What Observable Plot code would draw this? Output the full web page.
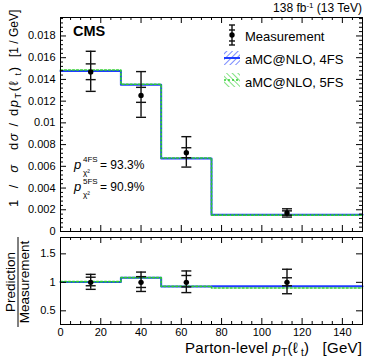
<!DOCTYPE html>
<html>
<head>
<meta charset="utf-8">
<script src="https://cdn.jsdelivr.net/npm/d3@7"></script>
<script src="https://cdn.jsdelivr.net/npm/@observablehq/plot@0.6"></script>
<style>
  html, body { margin: 0; padding: 0; background: white; }
  #chart { position: relative; width: 374px; height: 363px; font-family: "Liberation Sans", Arial, sans-serif; }
  #top, #bot { position: absolute; left: 0; }
  #top { top: 0; }
  #bot { top: 230px; }
  #ann { position: absolute; left: 0; top: 0; pointer-events: none; }
  svg text { font-family: "Liberation Sans", Arial, sans-serif; }
</style>
</head>
<body>
<div id="chart">
  <div id="top"></div>
  <div id="bot"></div>
</div>
<script>
// ---- data ----
const binEdges   = [0, 30, 50, 75, 150];
const binCenters = [15, 40, 62.5, 112.5];

const measured = [0.01469, 0.01253, 0.00725, 0.00170];
const totalUp  = [0.01659, 0.01472, 0.00873, 0.00209];
const totalDn  = [0.01290, 0.01051, 0.00593, 0.00133];
const statUp   = [0.01543, 0.01327, 0.00771, 0.00190];
const statDn   = [0.01398, 0.01189, 0.00679, 0.00150];

const pred4FS = [0.01478, 0.01352, 0.00673, 0.00154];
const pred5FS = [0.01487, 0.01355, 0.00676, 0.00151];

const ratioMeas    = [1, 1, 1, 1];
const ratioTotUp   = [1.14, 1.18, 1.20, 1.23];
const ratioTotDn   = [0.877, 0.84, 0.82, 0.80];
const ratioStatUp  = [1.09, 1.10, 1.12, 1.08];
const ratioStatDn  = [0.94, 0.91, 0.92, 0.94];
const ratio4FS     = [1.006, 1.079, 0.928, 0.930];
const ratio5FS     = [1.012, 1.082, 0.930, 0.900];

const yTicksTop      = [0, 0.002, 0.004, 0.006, 0.008, 0.010, 0.012, 0.014, 0.016, 0.018];
const yTickLabelsTop = ["0", "0.002", "0.004", "0.006", "0.008", "0.01", "0.012", "0.014", "0.016", "0.018"];
const yTicksBot      = [0.5, 1, 1.5];
const yTickLabelsBot = ["0.5", "1", "1.5"];
const xTicks         = [0, 20, 40, 60, 80, 100, 120, 140];

const blue  = "#1f3dff";
const green = "#2fcf2f";
const font  = '"Liberation Sans", Arial, sans-serif';

// ---- derived tables ----
const points = binCenters.map((c, i) => ({
  x: c, y: measured[i], tu: totalUp[i], td: totalDn[i], su: statUp[i], sd: statDn[i]
}));
const rpoints = binCenters.map((c, i) => ({
  x: c, y: ratioMeas[i], tu: ratioTotUp[i], td: ratioTotDn[i], su: ratioStatUp[i], sd: ratioStatDn[i]
}));
const stepOf = (vals) => binEdges.map((e, i) => ({x: e, y: vals[Math.min(i, vals.length - 1)]}));

const xMinor = d3.range(0, 151, 5).filter(v => v % 20 !== 0);
const yMinorTop = d3.range(1, 50).map(i => i * 0.0004).filter(v => v < 0.0197 && Math.abs(v / 0.002 - Math.round(v / 0.002)) > 1e-6);

const cap = { draw(ctx) { ctx.moveTo(-5, 0); ctx.lineTo(5, 0); } };

function errorMarks(data) {
  return [
    Plot.ruleX(data, {x: "x", y1: "td", y2: "tu", stroke: "#111", strokeWidth: 1.4}),
    Plot.dot(data, {x: "x", y: "tu", symbol: cap, stroke: "#111", strokeWidth: 1.4, fill: "none", r: 3}),
    Plot.dot(data, {x: "x", y: "td", symbol: cap, stroke: "#111", strokeWidth: 1.4, fill: "none", r: 3}),
    Plot.dot(data, {x: "x", y: "su", symbol: cap, stroke: "#111", strokeWidth: 1.4, fill: "none", r: 3}),
    Plot.dot(data, {x: "x", y: "sd", symbol: cap, stroke: "#111", strokeWidth: 1.4, fill: "none", r: 3}),
    Plot.dot(data, {x: "x", y: "y", r: 2.7, fill: "black", stroke: "none"})
  ];
}

function tickMarks(W, H, yMajor, yMinor, yLen, yMinLen) {
  const m = [];
  m.push(Plot.tickY(yMajor, {y: d => d, insetRight: W - yLen, stroke: "black"}));
  m.push(Plot.tickY(yMajor, {y: d => d, insetLeft: W - yLen, stroke: "black"}));
  if (yMinor.length) {
    m.push(Plot.tickY(yMinor, {y: d => d, insetRight: W - yMinLen, stroke: "black"}));
    m.push(Plot.tickY(yMinor, {y: d => d, insetLeft: W - yMinLen, stroke: "black"}));
  }
  m.push(Plot.tickX(xTicks, {x: d => d, insetTop: H - 6, stroke: "black"}));
  m.push(Plot.tickX(xTicks, {x: d => d, insetBottom: H - 6, stroke: "black"}));
  m.push(Plot.tickX(xMinor, {x: d => d, insetTop: H - 3, stroke: "black"}));
  m.push(Plot.tickX(xMinor, {x: d => d, insetBottom: H - 3, stroke: "black"}));
  return m;
}

// ---- top panel ----
const topW = 374, topH = 240, mL = 60, mR = 12, tMT = 17, tMB = 9;
const topPlot = Plot.plot({
  width: topW, height: topH,
  marginLeft: mL, marginRight: mR, marginTop: tMT, marginBottom: tMB,
  x: {domain: [0, 150], axis: null},
  y: {domain: [0, 0.0197]},
  style: {fontFamily: font, fontSize: "11px", color: "black", background: "none", overflow: "visible"},
  marks: [
    Plot.line(stepOf(pred4FS), {x: "x", y: "y", curve: "step-after", stroke: blue, strokeWidth: 2}),
    Plot.line(stepOf(pred5FS), {x: "x", y: "y", curve: "step-after", stroke: green, strokeWidth: 1.6, strokeDasharray: "2,2"}),
    ...errorMarks(points),
    ...tickMarks(topW - mL - mR, topH - tMT - tMB, yTicksTop, yMinorTop, 6, 3),
    Plot.axisY(yTicksTop, {tickSize: 0, tickPadding: 5, label: null, fontSize: 11,
      tickFormat: d => yTickLabelsTop[yTicksTop.indexOf(d)]}),
    Plot.frame({stroke: "black", strokeWidth: 1})
  ]
});
document.getElementById("top").appendChild(topPlot);

// ---- ratio panel ----
const botW = 374, botH = 133, bMT = 7, bMB = 39;
const botPlot = Plot.plot({
  width: botW, height: botH,
  marginLeft: mL, marginRight: mR, marginTop: bMT, marginBottom: bMB,
  x: {domain: [0, 150]},
  y: {domain: [0.26, 1.787]},
  style: {fontFamily: font, fontSize: "11px", color: "black", background: "none", overflow: "visible"},
  marks: [
    Plot.line(stepOf(ratio4FS), {x: "x", y: "y", curve: "step-after", stroke: blue, strokeWidth: 2}),
    Plot.line(stepOf(ratio5FS), {x: "x", y: "y", curve: "step-after", stroke: green, strokeWidth: 1.6, strokeDasharray: "2,2"}),
    ...errorMarks(rpoints),
    ...tickMarks(botW - mL - mR, botH - bMT - bMB, yTicksBot, [], 6, 3),
    Plot.axisY(yTicksBot, {tickSize: 0, tickPadding: 5, label: null, fontSize: 11,
      tickFormat: d => yTickLabelsBot[yTicksBot.indexOf(d)]}),
    Plot.axisX(xTicks, {tickSize: 0, tickPadding: 4, label: null, fontSize: 11}),
    Plot.frame({stroke: "black", strokeWidth: 1})
  ]
});
document.getElementById("bot").appendChild(botPlot);

// ---- annotations, titles and legend ----
const ann = `
<svg id="ann" width="374" height="363" xmlns="http://www.w3.org/2000/svg">
  <defs>
    <pattern id="hatch4" patternUnits="userSpaceOnUse" width="4" height="4" patternTransform="rotate(45)">
      <line x1="0" y1="0" x2="0" y2="4" stroke="${blue}" stroke-width="1.2"/>
    </pattern>
    <pattern id="hatch5" patternUnits="userSpaceOnUse" width="4" height="4" patternTransform="rotate(-45)">
      <line x1="0" y1="0" x2="0" y2="4" stroke="${green}" stroke-width="1.2"/>
    </pattern>
  </defs>
  <text x="362" y="12" text-anchor="end" font-size="12">138 fb<tspan dy="-4" font-size="8">-1</tspan><tspan dy="4"> (13 TeV)</tspan></text>
  <text x="73" y="36" font-size="14.5" font-weight="bold">CMS</text>

  <!-- legend -->
  <g stroke="#111" stroke-width="1.4">
    <line x1="232" y1="25" x2="232" y2="45"/>
    <line x1="229" y1="25" x2="235" y2="25"/>
    <line x1="229" y1="45" x2="235" y2="45"/>
    <line x1="229" y1="30" x2="235" y2="30"/>
    <line x1="229" y1="41" x2="235" y2="41"/>
  </g>
  <circle cx="232" cy="35" r="2.7" fill="black"/>
  <text x="245" y="40.5" font-size="13">Measurement</text>
  <rect x="224" y="51" width="16" height="14" fill="url(#hatch4)"/>
  <line x1="224" y1="58" x2="240" y2="58" stroke="${blue}" stroke-width="2"/>
  <text x="245" y="63.5" font-size="13">aMC@NLO, 4FS</text>
  <rect x="224" y="73" width="16" height="14" fill="url(#hatch5)"/>
  <line x1="224" y1="80" x2="240" y2="80" stroke="${green}" stroke-width="1.6" stroke-dasharray="2,2"/>
  <text x="245" y="86.5" font-size="13">aMC@NLO, 5FS</text>

  <!-- chi2 probabilities -->
  <text x="74" y="168.5" font-size="13" font-style="italic">p</text>
  <text x="83" y="162" font-size="8">4FS</text>
  <text x="83" y="175" font-size="8">χ²</text>
  <text x="100" y="168.5" font-size="12">= 93.3%</text>
  <text x="74" y="190.5" font-size="13" font-style="italic">p</text>
  <text x="83" y="184" font-size="8">5FS</text>
  <text x="83" y="197" font-size="8">χ²</text>
  <text x="100" y="190.5" font-size="12">= 90.9%</text>

  <!-- y title (top panel) -->
  <g transform="translate(18,207) rotate(-90)" font-size="13">
    <text x="0" y="0" textLength="42" lengthAdjust="spacing">1 / <tspan font-style="italic">σ</tspan></text>
    <text x="57" y="0" textLength="83" lengthAdjust="spacing">d<tspan font-style="italic">σ</tspan> / d<tspan font-style="italic">p</tspan><tspan font-size="9" dy="3">T</tspan><tspan dy="-3">(ℓ</tspan><tspan font-size="9" dy="3">\u00a0t</tspan><tspan dy="-3">)</tspan></text>
    <text x="150" y="0" font-size="12">[1 / GeV]</text>
  </g>

  <!-- y title (ratio panel) -->
  <g transform="translate(17,282) rotate(-90)" font-size="13.5">
    <text x="0" y="-2" text-anchor="middle">Prediction</text>
    <line x1="-45" y1="1" x2="45" y2="1" stroke="black" stroke-width="1"/>
    <text x="0" y="12" text-anchor="middle">Measurement</text>
  </g>

  <!-- x title -->
  <text x="362" y="353" text-anchor="end" font-size="15" textLength="177" lengthAdjust="spacing">Parton-level <tspan font-style="italic">p</tspan><tspan font-size="10" dy="3">T</tspan><tspan dy="-3">(ℓ</tspan><tspan font-size="10" dy="3">\u00a0t</tspan><tspan dy="-3">)\u00a0\u00a0\u00a0[GeV]</tspan></text>
</svg>`;
document.getElementById("chart").insertAdjacentHTML("beforeend", ann);
</script>
</body>
</html>
